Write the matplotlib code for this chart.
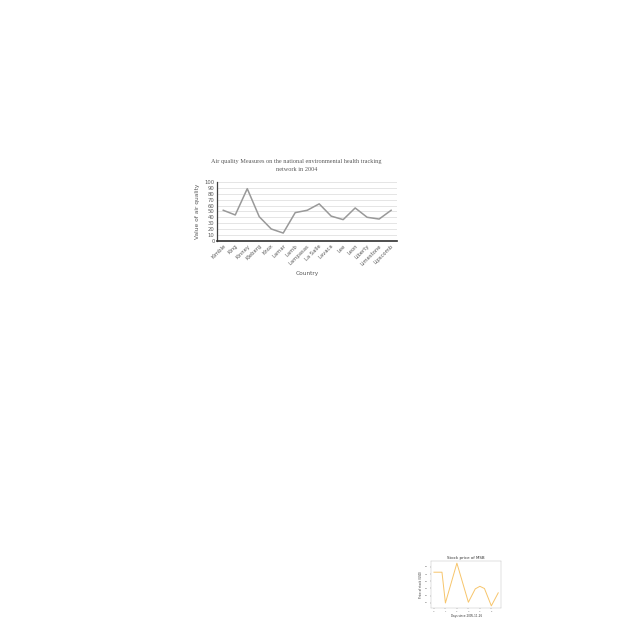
import matplotlib
matplotlib.use("Agg")
import matplotlib.pyplot as plt
import numpy as np

# main chart data
countries = ["Kimble", "King", "Kinney", "Kleberg", "Knox", "Lamar", "Lamb", "Lampasas",
             "La Salle", "Lavaca", "Lee", "Leon", "Liberty", "Limestone", "Lipscomb"]
air_quality = [52, 44, 89, 41, 20, 13, 48, 52, 63, 42, 36, 56, 40, 37, 52]

# small stock chart data
days = [0, 0.7, 1, 2, 3, 3.6, 4, 4.4, 5, 5.6]
price = [34.5, 34.5, 26.0, 37.0, 26.2, 29.9, 30.6, 30.0, 25.2, 28.8]

fig = plt.figure(figsize=(6.4, 6.4), dpi=100)

# --- air quality chart ---
ax = fig.add_axes([0.3395, 0.624, 0.281, 0.0912])
x = np.arange(len(countries))
ax.plot(x, air_quality, color="#999999", linewidth=1.1)
ax.set_xlim(-0.5, len(countries) - 0.5)
ax.set_ylim(0, 100)
ax.set_yticks(range(0, 101, 10))
ax.yaxis.grid(True, color="#dadada", linewidth=0.5)
ax.set_axisbelow(True)
ax.set_xticks(x)
ax.set_xticklabels(countries, rotation=45, ha="right", rotation_mode="anchor",
                   fontsize=3.8, color="#595959")
ax.tick_params(axis="y", labelsize=3.8, labelcolor="#595959", length=0, pad=2)
ax.tick_params(axis="x", length=0, pad=2)
for s in ["top", "right"]:
    ax.spines[s].set_visible(False)
ax.spines["left"].set_color("#404040")
ax.spines["left"].set_linewidth(0.9)
ax.spines["bottom"].set_color("#303030")
ax.spines["bottom"].set_linewidth(1.2)
ax.set_ylabel("Value of air quality", fontsize=4.2, color="#595959", labelpad=3)
ax.set_xlabel("Country", fontsize=4.2, color="#595959", labelpad=3)
ax.set_title("Air quality Measures on the national environmental health tracking\nnetwork in 2004",
             fontsize=4.5, color="#595959", family="Liberation Serif", pad=8,
             linespacing=1.9, x=0.44)

# --- stock price chart ---
ax2 = fig.add_axes([0.673, 0.05, 0.1105, 0.0734])
ax2.plot(days, price, color="#f7c56b", linewidth=0.7)
ax2.set_xticks(range(0, 6))
ax2.tick_params(labelsize=1.6, length=1, width=0.3, pad=1, colors="#666666")
for s in ax2.spines.values():
    s.set_linewidth(0.3)
    s.set_color("#bbbbbb")
ax2.set_title("Stock price of MSB", fontsize=2.9, pad=1.5, color="#333333")
ax2.set_xlabel("Days since 2005-11-26", fontsize=2.0, labelpad=1.5, color="#333333")
ax2.set_ylabel("Price of stock (USD)", fontsize=2.0, labelpad=1.5, color="#333333")

fig.savefig("out.png", dpi=100, facecolor="white")
